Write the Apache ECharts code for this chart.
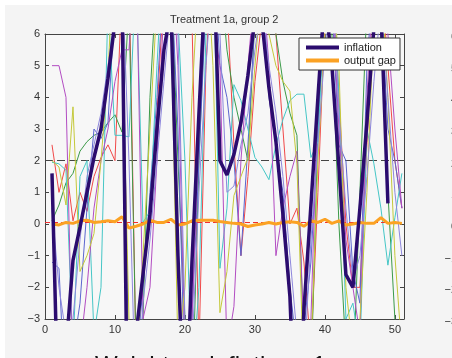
<!DOCTYPE html>
<html>
<head>
<meta charset="utf-8">
<style>
  html, body { margin: 0; padding: 0; background: #fff; }
  #paper { position: absolute; left: 5px; top: 5px; width: 447px; height: 353px; background: #f4f4f4; }
  #chart { position: absolute; left: 0; top: 0; width: 452px; height: 358px; }
</style>
</head>
<body>
<div id="paper"></div>
<div id="chart"></div>
<script src="https://cdn.jsdelivr.net/npm/echarts@6/dist/echarts.min.js"></script>
<script>
// periods run 1..N, value i belongs to period i+1
const inflation = [1.6, -7, -4, -1.15, -0.1, 1.0, 2.1, 3.0, 4.6, 6.4,
  7.5, -10, -3.5, -1.6, 0.3, 3.0, 5.5, 6.8, -1, -7,
  -1.2, 3.5, 8, 9, 2.0, 1.55, 2.2, 3.2, 4.7, 6.5,
  6.4, 4.3, 2.6, 0.3, -2.3, -8, -2.7, 0.6, 4.0, 7.3,
  5.0, 1.8, -1.6, -2.0, 0.5, 3.2, 6.2, 6.8, 0.65];

const outputGap = [0.0, -0.03, 0.05, 0.02, 0.1, 0.12, 0.05, 0.07, 0.1, 0.07,
  0.23, -0.13, -0.07, 0.0, 0.12, 0.05, 0.05, 0.15, -0.03, 0.0,
  0.1, 0.12, 0.12, 0.12, 0.08, 0.05, 0.02, 0.0, -0.08, -0.03,
  0.0, 0.05, 0.0, 0.05, 0.07, 0.05, -0.07, 0.1, 0.05, 0.15,
  0.02, 0.1, -0.03, 0.0, 0.05, 0.02, 0.02, 0.2, 0.02, 0.05, 0.02];

// individual forecasts
const fcRed = [2.5, 1.0, 1.9, 0.1, 1.0, 0.4, 1.5, 2.1, 2.5, 2.0,
  7.5, 8.0, -4.0, -1.5, 0.6, 3.5, 7.5, 9.0, 9.0, 8.0,
  6.5, -4.0, 5.0, 9.0, 8.0, 7.0, 2.5, -1.0, 1.5, 4.5,
  6.5, 8.0, 6.0, 3.0, 0.0, 0.5, -1.2, -4.0, 1.0, 6.5,
  8.0, 4.0, 0.0, -2.0, -2.0, 2.5, 7.0, 8.0, 5.0, 2.0, 0.5];
const fcGreen = [0.1, 0.6, 1.3, 1.6, 2.3, 2.6, 2.8, 2.9, 3.2, 3.45,
  2.9, 7.0, -4.0, -3.0, 4.0, 8.0, 9.0, 8.0, 2.0, -3.0,
  -6.0, 2.0, 7.5, 9.0, 8.0, 5.5, 4.0, 3.0, 2.0, 6.5,
  9.0, 8.0, 6.0, 4.5, 3.5, 2.8, -4.0, -5.0, 3.0, 9.0,
  6.0, 0.0, -4.0, -5.0, 1.0, 7.0, 9.0, 6.0, 1.0, -3.0, -3.5];
const fcBlue = [-1.2, -1.4, -6.0, -4.0, -2.5, 0.5, 3.0, 2.7, 3.2, 7.0,
  8.0, -5.0, -4.5, -2.0, 1.0, 4.0, 8.0, 8.0, 3.0, -5.0,
  -3.0, 2.0, 7.0, 9.0, 5.0, 4.0, 2.0, -1.0, 2.5, 6.5,
  8.0, 4.0, 2.5, 1.0, -2.0, -4.0, -3.3, -1.2, 3.0, 7.0,
  7.0, 2.5, 2.0, -1.5, -2.5, 5.0, 8.0, 7.0, 3.0, 2.0, 0.5];
const fcCyan = [1.95, 1.9, 1.7, -4.0, 1.5, 2.0, -3.5, -2.0, 7.0, 2.8,
  2.8, 2.75, 8.0, 0.05, 0.4, 5.0, 9.0, 8.0, 6.5, 2.0,
  -5.0, -2.0, 6.0, 9.0, -1.4, 0.5, 4.4, 3.9, 3.0, 2.1,
  1.8, 1.4, 2.5, 3.3, 3.9, 4.1, 4.1, 2.1, 2.6, 7.0,
  9.0, 4.0, -3.0, -2.5, -4.0, 3.0, 1.9, 0.5, -1.3, 0.2, 1.6];
const fcMagenta = [5.0, 5.0, 4.0, -5.0, -4.0, -2.0, 0.5, 2.0, 3.0, 4.5,
  5.5, 5.5, 9.0, -3.0, -2.0, 2.0, 7.0, 9.0, 5.0, -4.0,
  -3.0, 3.0, 9.0, 6.5, 5.0, -4.0, -2.6, 2.0, 5.0, 7.5,
  8.0, 5.0, -1.0, 0.5, 1.5, 2.3, -3.5, -3.0, 4.0, 8.0,
  7.5, 3.0, -0.5, -2.0, -3.5, 4.0, 8.0, 7.5, 6.0, 3.0, 0.5];
const fcYellow = [2.0, 1.8, 0.6, 3.7, -1.5, -1.0, -0.3, 2.0, 4.8, 9.0,
  6.0, -3.0, -5.0, -1.0, 3.0, 7.0, 9.0, 6.5, -4.0, -2.0,
  4.0, 8.0, 9.0, 5.0, -2.8, -1.5, 0.9, 1.5, 2.1, 5.0,
  7.5, 6.0, 5.0, 4.5, 4.2, 1.9, -5.0, -4.0, 2.0, 6.0,
  8.0, 5.0, -2.0, -4.0, -3.0, 1.0, 6.5, 8.0, 4.0, -1.0, -4.0];
const fcViolet = [0.5, -2.0, -3.5, -3.0, -0.5, 1.5, 2.5, 3.5, 5.0, 6.5,
  8.0, 2.0, -6.0, -2.5, -0.5, 2.0, 4.5, 7.0, 6.0, -3.0,
  -4.0, 1.0, 5.0, 8.0, 6.0, 1.0, 1.2, 2.5, 3.5, 5.5,
  7.0, 5.0, 3.5, 1.5, -1.0, -3.5, -4.5, -0.5, 2.5, 5.5,
  8.0, 3.5, 0.5, -1.8, -1.0, 1.5, 4.5, 7.0, 4.0, 1.0, -1.0];

const xTicks = [0, 10, 20, 30, 40, 50];
const yTicks = [-3, -2, -1, 0, 1, 2, 3, 4, 5, 6];
const inflationTarget = 2;
const gapTarget = 0.04;

const FONT = '"Liberation Sans", Arial, sans-serif';
const toPairs = arr => arr.map((v, i) => [i + 1, v]);
const minus = v => (v < 0 ? '\u2212' + (-v) : String(v));

const thin = [
  { data: fcRed, color: '#f04848' },
  { data: fcGreen, color: '#3b9a48' },
  { data: fcBlue, color: '#5b66cf' },
  { data: fcCyan, color: '#45c6c6' },
  { data: fcMagenta, color: '#b24cc2' },
  { data: fcYellow, color: '#c4c83a' },
  { data: fcViolet, color: '#8d86dc' }
];

const axisColor = '#444';
const baseX = {
  type: 'value',
  min: 0,
  max: 51.3,
  interval: 10,
  splitLine: { show: false },
  axisLine: { show: true, onZero: false, lineStyle: { color: axisColor, width: 1 } },
  axisTick: { show: true, inside: true, length: 4, lineStyle: { color: axisColor } }
};
const baseY = {
  type: 'value',
  min: -3,
  max: 6,
  interval: 1,
  splitLine: { show: false },
  axisLine: { show: true, onZero: false, lineStyle: { color: axisColor, width: 1 } },
  axisTick: { show: true, inside: true, length: 4, lineStyle: { color: axisColor } }
};

const chart = echarts.init(document.getElementById('chart'));

const series = thin.map(s => ({
  type: 'line',
  data: toPairs(s.data),
  showSymbol: false,
  symbol: 'none',
  silent: true,
  z: 2,
  lineStyle: { color: s.color, width: 1 }
}));

series.push({
  name: 'output gap',
  type: 'line',
  data: toPairs(outputGap),
  symbol: 'none',
  color: '#fba224',
  z: 3,
  lineStyle: { color: '#fba224', width: 3 },
  markLine: {
    silent: true,
    symbol: ['none', 'none'],
    z: 3,
    label: { show: false },
    lineStyle: { color: '#ee3030', type: [5, 3], width: 1 },
    data: [{ yAxis: gapTarget }]
  }
});

series.push({
  name: 'inflation',
  type: 'line',
  data: toPairs(inflation),
  symbol: 'none',
  color: '#2b0c6e',
  z: 4,
  lineStyle: { color: '#2b0c6e', width: 3.5 },
  markLine: {
    silent: true,
    symbol: ['none', 'none'],
    z: 1,
    label: { show: false },
    lineStyle: { color: '#444', type: [8, 4], width: 1 },
    data: [{ yAxis: inflationTarget }]
  }
});

chart.setOption({
  animation: false,
  backgroundColor: 'transparent',
  title: {
    text: 'Treatment 1a, group 2',
    left: 170,
    top: 14,
    padding: 0,
    textStyle: { fontFamily: FONT, fontSize: 11, fontWeight: 'normal', color: '#333' }
  },
  legend: {
    data: [
      { name: 'inflation', icon: 'rect', itemStyle: { color: '#2b0c6e' } },
      { name: 'output gap', icon: 'rect', itemStyle: { color: '#fba224' } }
    ],
    z: 10,
    orient: 'vertical',
    left: 299,
    top: 38,
    padding: [4, 4, 4, 7],
    itemGap: 2,
    itemWidth: 33,
    itemHeight: 4,
    backgroundColor: '#fff',
    borderColor: '#333',
    borderWidth: 1,
    borderRadius: 0,
    selectedMode: false,
    textStyle: { fontFamily: FONT, fontSize: 11, color: '#222' }
  },
  grid: {
    left: 45,
    right: 48,
    top: 34,
    bottom: 39,
    show: true,
    backgroundColor: '#f7f7f7',
    borderWidth: 0
  },
  xAxis: [
    Object.assign({}, baseX, {
      position: 'bottom',
      axisLabel: {
        color: '#333', fontFamily: FONT, fontSize: 11, margin: 5,
        formatter: v => (xTicks.includes(v) ? String(v) : '')
      }
    }),
    Object.assign({}, baseX, { position: 'top', axisLabel: { show: false } })
  ],
  yAxis: [
    Object.assign({}, baseY, {
      position: 'left',
      axisLabel: {
        color: '#333', fontFamily: FONT, fontSize: 11, margin: 5,
        formatter: v => (yTicks.includes(v) ? minus(v) : '')
      }
    }),
    Object.assign({}, baseY, { position: 'right', axisLabel: { show: false } })
  ],
  series: series
});

// caption under the figure and the clipped tick labels of the next panel
const graphics = [{
  type: 'text',
  silent: true,
  style: {
    text: 'Weight on inflation =1',
    x: 95,
    y: 354,
    fill: '#111',
    font: '24px ' + FONT,
    verticalAlign: 'top'
  }
}];
yTicks.forEach(t => {
  const py = chart.convertToPixel({ yAxisIndex: 0 }, t);
  graphics.push({
    type: 'text',
    silent: true,
    style: {
      text: minus(t),
      x: 457,
      y: py + 3,
      fill: '#333',
      font: '11px ' + FONT,
      align: 'right',
      verticalAlign: 'middle'
    }
  });
});
chart.setOption({ graphic: graphics });
</script>
</body>
</html>
